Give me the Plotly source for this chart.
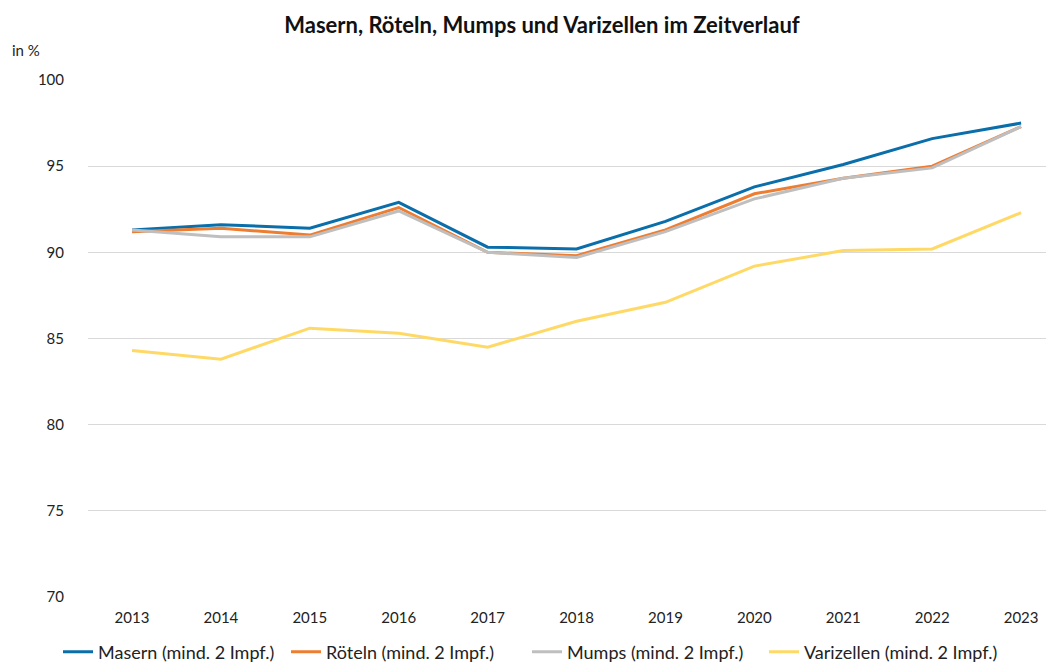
import plotly.graph_objects as go

years = [2013, 2014, 2015, 2016, 2017, 2018, 2019, 2020, 2021, 2022, 2023]
masern = [91.3, 91.6, 91.4, 92.9, 90.3, 90.2, 91.8, 93.8, 95.1, 96.6, 97.5]
roeteln = [91.2, 91.4, 91.0, 92.6, 90.0, 89.8, 91.3, 93.4, 94.3, 95.0, 97.3]
mumps = [91.3, 90.9, 90.9, 92.4, 90.0, 89.7, 91.2, 93.1, 94.3, 94.9, 97.3]
varizellen = [84.3, 83.8, 85.6, 85.3, 84.5, 86.0, 87.1, 89.2, 90.1, 90.2, 92.3]

series = [
    ("Masern (mind. 2 Impf.)", masern, "#0A6EAA"),
    ("Röteln (mind. 2 Impf.)", roeteln, "#ED7D31"),
    ("Mumps (mind. 2 Impf.)", mumps, "#BFBFBF"),
    ("Varizellen (mind. 2 Impf.)", varizellen, "#FFD966"),
]
legend_text_x = [97, 325, 566, 803]

OFF = 8  # page body margin offset
font = "Lato, Open Sans, sans-serif"
fig = go.Figure()
for i, (name, vals, col) in enumerate(series):
    lg = "legend" if i == 0 else f"legend{i+1}"
    fig.add_trace(go.Scatter(x=years, y=vals, name=name, mode="lines",
                             line=dict(color=col, width=3), legend=lg))

layout_legends = {}
for i, tx in enumerate(legend_text_x):
    key = "legend" if i == 0 else f"legend{i+1}"
    layout_legends[key] = dict(orientation="h", xref="container", yref="container",
                               x=(tx - 39 - OFF) / 1054, xanchor="left",
                               y=1 - (652 - OFF) / 662,
                               yanchor="middle", font=dict(size=18, color="#222"),
                               itemwidth=30, bgcolor="rgba(0,0,0,0)")

fig.update_layout(
    width=1054, height=662,
    margin=dict(l=88 - OFF, r=OFF, t=80 - OFF, b=662 - (597 - OFF), autoexpand=False),
    paper_bgcolor="white", plot_bgcolor="white",
    font=dict(family=font, size=14, color="#222"),
    title=dict(text="<b>Masern, Röteln, Mumps und Varizellen im Zeitverlauf</b>",
               x=(542 - OFF) / 1054, xanchor="center", y=1 - (25 - OFF) / 662,
               yanchor="middle", font=dict(size=22, color="#111")),
    xaxis=dict(range=[2012.505, 2023.37], tickvals=years, ticktext=[str(y) for y in years],
               showgrid=False, zeroline=False, showline=False, ticks="outside",
               ticklen=7, tickcolor="rgba(0,0,0,0)", tickfont=dict(size=15)),
    yaxis=dict(range=[70, 100], dtick=5, showgrid=True, gridcolor="#D9D9D9", gridwidth=1,
               zeroline=False, showline=False, ticks="outside", ticklen=20,
               tickcolor="rgba(0,0,0,0)", tickfont=dict(size=15)),
    showlegend=True,
    **layout_legends,
)
fig.add_annotation(text="in %", xref="paper", yref="paper", x=-78 / 966, y=1 + 30 / 517,
                   xanchor="left", yanchor="middle", showarrow=False,
                   font=dict(size=15, color="#222"))

fig.write_html("out.html")
